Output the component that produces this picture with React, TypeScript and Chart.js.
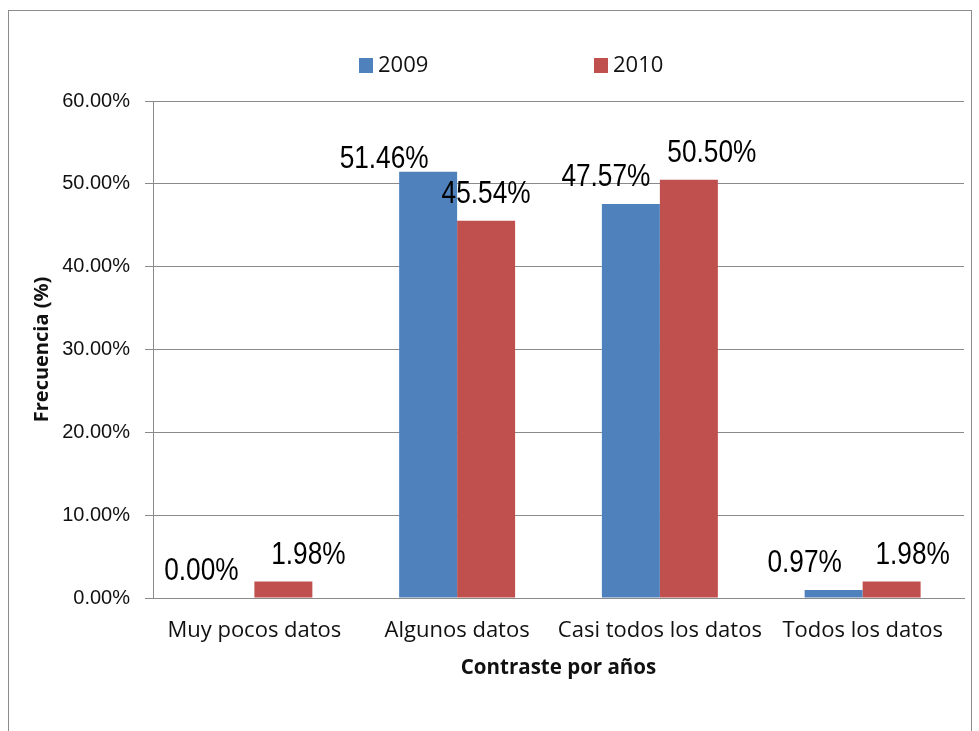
import React, { useEffect, useRef } from "react";
import { Chart, registerables } from "chart.js";

Chart.register(...registerables);

// ---- data ----
const categories = ["Muy pocos datos", "Algunos datos", "Casi todos los datos", "Todos los datos"];
const seriesNames = ["2009", "2010"];
const values2009 = [0.0, 51.46, 47.57, 0.97];
const values2010 = [1.98, 45.54, 50.5, 1.98];
const yMin = 0;
const yMax = 60;
const yStep = 10;
const yTitle = "Frecuencia (%)";
const xTitle = "Contraste por años";

// ---- styles ----
const COLORS = ["#4F81BD", "#C0504D"];
const GRID = "#8a8a8a";
const TEXT = "#111111";
// data-label nudges (px), as placed in the original
const LABEL_DX = [
  [-24, -44, -25, -29],
  [25, 0, 23, 21],
];
const LABEL_DY = [
  [0, 14, 0, 0],
  [0, 0, 0, 0],
];
const LEGEND_X = [350, 585];
const LEGEND_Y = 47;

const CANVAS_W = 962;
const CANVAS_H = 720;

const fmt = (v: number) => v.toFixed(2) + "%";

const dataLabelPlugin = {
  id: "dataLabels",
  afterDatasetsDraw(chart: any) {
    const ctx = chart.ctx;
    ctx.save();
    ctx.fillStyle = "#000";
    ctx.font = "32px 'Liberation Sans', Arial, sans-serif";
    ctx.textAlign = "center";
    ctx.textBaseline = "alphabetic";
    chart.data.datasets.forEach((ds: any, di: number) => {
      const meta = chart.getDatasetMeta(di);
      meta.data.forEach((bar: any, i: number) => {
        const v = ds.data[i];
        const x = bar.x + LABEL_DX[di][i];
        const y = bar.y - 18 + LABEL_DY[di][i];
        ctx.save();
        ctx.translate(x, y);
        ctx.scale(0.82, 1);
        ctx.fillText(fmt(v), 0, 0);
        ctx.restore();
      });
    });
    ctx.restore();
  },
};

const legendPlugin = {
  id: "customLegend",
  afterDraw(chart: any) {
    const ctx = chart.ctx;
    ctx.save();
    ctx.font = "22px 'Open Sans', sans-serif";
    ctx.textBaseline = "middle";
    ctx.textAlign = "left";
    chart.data.datasets.forEach((ds: any, di: number) => {
      const x = LEGEND_X[di];
      ctx.fillStyle = ds.backgroundColor;
      ctx.fillRect(x, LEGEND_Y, 14, 15);
      ctx.fillStyle = TEXT;
      ctx.fillText(ds.label, x + 19, LEGEND_Y + 8);
    });
    ctx.restore();
  },
};

export default function App() {
  const ref = useRef<HTMLCanvasElement | null>(null);

  useEffect(() => {
    if (!ref.current) return;
    const chart = new Chart(ref.current, {
      type: "bar",
      data: {
        labels: categories,
        datasets: [
          { label: seriesNames[0], data: values2009, backgroundColor: COLORS[0] },
          { label: seriesNames[1], data: values2010, backgroundColor: COLORS[1] },
        ],
      },
      options: {
        responsive: false,
        animation: false,
        devicePixelRatio: 1,
        layout: { padding: { left: 0, right: 7, top: 90, bottom: 51 } },
        datasets: { bar: { categoryPercentage: 0.572, barPercentage: 1 } },
        plugins: {
          legend: { display: false },
          tooltip: { enabled: false },
          title: { display: false },
        },
        scales: {
          x: {
            grid: { display: false, drawTicks: false },
            border: { display: true, color: GRID, width: 1 },
            ticks: {
              padding: 20,
              color: TEXT,
              font: { family: "'Open Sans', sans-serif", size: 22 },
              maxRotation: 0,
              autoSkip: false,
            },
            title: {
              display: true,
              text: xTitle,
              color: TEXT,
              font: { family: "'Open Sans', sans-serif", size: 20.5, weight: "bold" },
              padding: { top: 0, bottom: 0 },
            },
            afterFit(scale: any) {
              scale.height = 82;
            },
          },
          y: {
            min: yMin,
            max: yMax,
            ticks: {
              stepSize: yStep,
              padding: 15,
              color: TEXT,
              font: { family: "'Liberation Sans', Arial, sans-serif", size: 20 },
              callback: (v: any) => fmt(Number(v)),
            },
            grid: { color: GRID, lineWidth: 1, drawTicks: true, tickLength: 8, tickColor: GRID },
            border: { display: true, color: GRID, width: 1 },
            title: {
              display: true,
              text: yTitle,
              color: TEXT,
              font: { family: "'Open Sans', sans-serif", size: 20, weight: "bold" },
              padding: { top: 21, bottom: 0 },
            },
            afterFit(scale: any) {
              scale.width = 144;
            },
          },
        },
      },
      plugins: [dataLabelPlugin, legendPlugin],
    });
    return () => chart.destroy();
  }, []);

  return (
    <div
      style={{
        position: "fixed",
        left: 8,
        top: 10,
        width: CANVAS_W,
        height: 740,
        borderLeft: "1px solid #8c8c8c",
        borderTop: "1px solid #8c8c8c",
        borderRight: "1px solid #8c8c8c",
        background: "#fff",
      }}
    >
      <canvas
        ref={ref}
        width={CANVAS_W}
        height={CANVAS_H}
        style={{ display: "block", width: CANVAS_W, height: CANVAS_H }}
      />
    </div>
  );
}
